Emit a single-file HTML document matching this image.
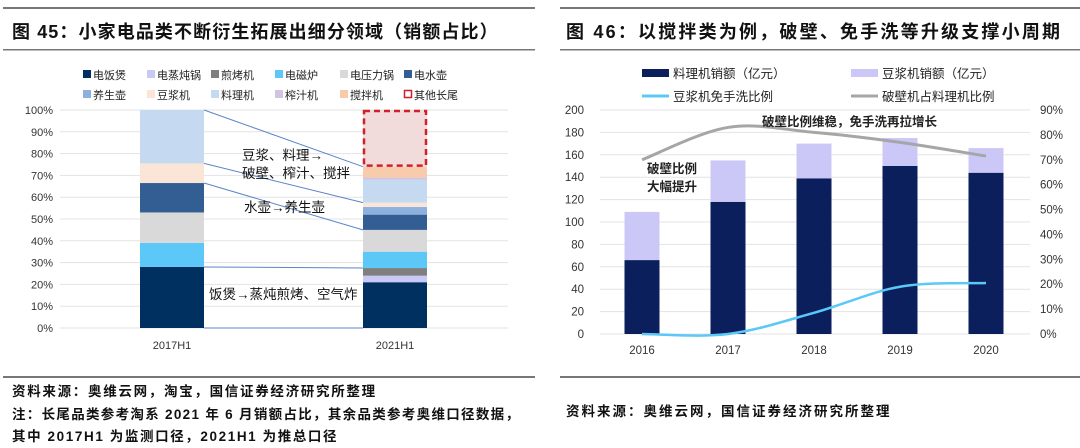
<!DOCTYPE html>
<html><head><meta charset="utf-8">
<style>
body{margin:0;background:#fff;}
svg{display:block;font-family:"Liberation Sans","Noto Sans CJK SC",sans-serif;}
</style></head>
<body>
<svg id="c" width="1080" height="448" viewBox="0 0 1080 448">
<g>
<rect x="3" y="7" width="532" height="2" fill="#777"/>
<rect x="3" y="49" width="532" height="1.5" fill="#777"/>
<rect x="3" y="376" width="532" height="2" fill="#777"/>
<text x="12" y="38" font-size="18" font-weight="bold" letter-spacing="1.1" fill="#111">图 45：小家电品类不断衍生拓展出细分领域（销额占比）</text>
<text x="12" y="396" font-size="13.5" font-weight="bold" letter-spacing="1.7" fill="#111">资料来源：奥维云网，淘宝，国信证券经济研究所整理</text>
<text x="12" y="419" font-size="13.5" font-weight="bold" letter-spacing="1.3" fill="#111">注：长尾品类参考淘系 2021 年 6 月销额占比，其余品类参考奥维口径数据，</text>
<text x="12" y="441" font-size="13.5" font-weight="bold" letter-spacing="1.6" fill="#111">其中 2017H1 为监测口径，2021H1 为推总口径</text>
</g>
<g>
<rect x="560" y="7" width="520" height="2" fill="#777"/>
<rect x="560" y="49" width="520" height="1.5" fill="#777"/>
<rect x="560" y="376" width="520" height="2" fill="#777"/>
<text x="566" y="38" font-size="18" font-weight="bold" letter-spacing="2.2" fill="#111">图 46：以搅拌类为例，破壁、免手洗等升级支撑小周期</text>
<text x="566" y="416" font-size="13.5" font-weight="bold" letter-spacing="2" fill="#111">资料来源：奥维云网，国信证券经济研究所整理</text>
</g>
<g id="left"></g>
<g id="right"></g>
</svg>
<script>
const NS="http://www.w3.org/2000/svg";
function mk(p,t,a,txt){const e=document.createElementNS(NS,t);for(const k in a)e.setAttribute(k,a[k]);if(txt!==undefined)e.textContent=txt;p.appendChild(e);return e;}

// ---------- Left chart data ----------
const lCats=["2017H1","2021H1"];
const lSeries=["电饭煲","电蒸炖锅","煎烤机","电磁炉","电压力锅","电水壶","养生壶","豆浆机","料理机","榨汁机","搅拌机","其他长尾"];
const lColors=["#00305f","#c9c9f5","#7f7f7f","#5bc8f8","#d9d9d9","#335e93","#8db0df","#fbe5d6","#c5d9f1","#d0c4e0","#f8cbad","#f2dcdb"];
const l2017=[28,0,0,11,14,13.5,0,9,24.5,0,0,0];
const l2021=[21,3,3.5,7.5,10,7,3.5,2,10.5,1,5,26];
const lTicks=[0,10,20,30,40,50,60,70,80,90,100];

const L=document.getElementById('left');
const ly=v=>328-v*2.18;
const lBarX=[140,363], lBW=64;
lTicks.forEach(t=>{
 const g=mk(L,'line',{x1:60,x2:508,y1:ly(t),y2:ly(t),stroke:'#e3e3e3','stroke-width':1});
 
 
 const tx=mk(L,'text',{x:53,y:ly(t)+4,'font-size':11,'text-anchor':'end',fill:'#333'},t+'%');
 
 
});
[l2017,l2021].forEach((vals,ci)=>{
 let acc=0;
 vals.forEach((v,si)=>{
  if(v<=0){return;}
  const r=mk(L,'rect',{x:lBarX[ci],y:ly(acc+v),width:lBW,height:v*2.18,fill:lColors[si]});
  
  
  if(si===11){
   const o=mk(L,'rect',{x:lBarX[ci]+1,y:ly(acc+v)+1,width:lBW-2,height:v*2.18-2,fill:'none',stroke:'#d0212b','stroke-width':2.5,'stroke-dasharray':'6,4'});
   
   
  }
  acc+=v;
 });
 const lb=mk(L,'text',{x:lBarX[ci]+lBW/2,y:349,'font-size':11,'text-anchor':'middle',fill:'#333'},lCats[ci]);
 
 
});
function cum(a,n){let s=0;for(let i=0;i<n;i++)s+=a[i];return s;}
[[0,0],[1,3],[6,5],[8,8],[9,11]].forEach(([a,b])=>{
 const ln=mk(L,'line',{x1:lBarX[0]+lBW,y1:ly(cum(l2017,a===0?0:(a===1?1:a))),x2:lBarX[1],y2:ly(cum(l2021,b)),stroke:'#5b86c9','stroke-width':1});
 
 
});
[["豆浆、料理→",242,160],["破壁、榨汁、搅拌",242,178],["水壶→养生壶",244,212],["饭煲→蒸炖煎烤、空气炸",209,299]].forEach(([t,x,y])=>{
 const e=mk(L,'text',{x:x,y:y,'font-size':13.5,fill:'#111'},t);
 
 
});
const lLegX=[83,147,211,275,340,404];
lSeries.forEach((s,i)=>{
 const x=lLegX[i%6], y=i<6?75:95;
 const g=mk(L,'g',{});
 
 
 if(i===11) mk(g,'rect',{x:x+0.5,y:y-4.5,width:7,height:7,fill:'none',stroke:'#d0212b','stroke-width':1.5});
 else mk(g,'rect',{x:x,y:y-5,width:8,height:8,fill:lColors[i]});
 mk(g,'text',{x:x+10,y:y+4,'font-size':11,fill:'#222'},s);
});

// ---------- Right chart data ----------
const rCats=["2016","2017","2018","2019","2020"];
const rBlender=[66,118,139,150,144];
const rSoy=[43,37,31,25,22];
const rWallBreak=[70,83,81,77,71.5];
const rNoWash=[0,0,8.5,19,20.5];
const rLeftTicks=[0,20,40,60,80,100,120,140,160,180,200];
const rRightTicks=[0,10,20,30,40,50,60,70,80,90];

const R=document.getElementById('right');
const ry=v=>334-v*1.12;
const rpy=p=>334-p*224/90;
const rx=i=>642+i*86;
const bw=35;
rLeftTicks.forEach(t=>{
 const g=mk(R,'line',{x1:600,x2:1030,y1:ry(t),y2:ry(t),stroke:'#e3e3e3','stroke-width':1});
 
 
 const tx=mk(R,'text',{x:584,y:ry(t)+4,'font-size':11.5,'text-anchor':'end',fill:'#333'},t);
 
 
});
rRightTicks.forEach(t=>{
 const tx=mk(R,'text',{x:1040,y:rpy(t)+4,'font-size':11.5,fill:'#333'},t+'%');
 
 
});
rCats.forEach((c,i)=>{
 const b1=mk(R,'rect',{x:rx(i)-bw/2,y:ry(rBlender[i]),width:bw,height:rBlender[i]*1.12,fill:'#0a1f5c'});
 
 
 const b2=mk(R,'rect',{x:rx(i)-bw/2,y:ry(rBlender[i]+rSoy[i]),width:bw,height:rSoy[i]*1.12,fill:'#cbc8f7'});
 
 
 const t=mk(R,'text',{x:rx(i),y:354,'font-size':11.5,'text-anchor':'middle',fill:'#333'},c);
 
 
});
function smooth(vals){
 const p=vals.map((v,i)=>[rx(i),rpy(v)]);
 let d='M'+p[0][0]+','+p[0][1];
 for(let i=0;i<p.length-1;i++){
  const p0=p[i-1]||p[i],p1=p[i],p2=p[i+1],p3=p[i+2]||p2;
  const c1=[p1[0]+(p2[0]-p0[0])/6,p1[1]+(p2[1]-p0[1])/6];
  const c2=[p2[0]-(p3[0]-p1[0])/6,p2[1]-(p3[1]-p1[1])/6];
  d+=' C'+c1+' '+c2+' '+p2;
 }
 return d;
}
const lw=mk(R,'path',{d:smooth(rWallBreak),fill:'none',stroke:'#a6a6a6','stroke-width':3});


const ln=mk(R,'path',{d:smooth(rNoWash),fill:'none',stroke:'#5bc8f8','stroke-width':2.5});


[["破壁比例维稳，免手洗再拉增长",762,126],["破壁比例",647,173],["大幅提升",647,191]].forEach(([t,x,y])=>{
 const e=mk(R,'text',{x:x,y:y,'font-size':12.5,'font-weight':'bold',fill:'#222'},t);
 
 
});
[["料理机销额（亿元）",642,73,'bar','#0a1f5c'],["豆浆机销额（亿元）",851,73,'bar','#cbc8f7'],["豆浆机免手洗比例",642,96,'line','#5bc8f8'],["破壁机占料理机比例",851,96,'line','#a6a6a6']].forEach(([t,x,y,k,c])=>{
 const g=mk(R,'g',{});
 
 
 if(k==='bar') mk(g,'rect',{x:x,y:y-4,width:27,height:8,fill:c});
 else mk(g,'line',{x1:x,x2:x+27,y1:y,y2:y,stroke:c,'stroke-width':3});
 mk(g,'text',{x:x+31,y:y+5,'font-size':12.5,fill:'#222'},t);
});
</script>
</body></html>
